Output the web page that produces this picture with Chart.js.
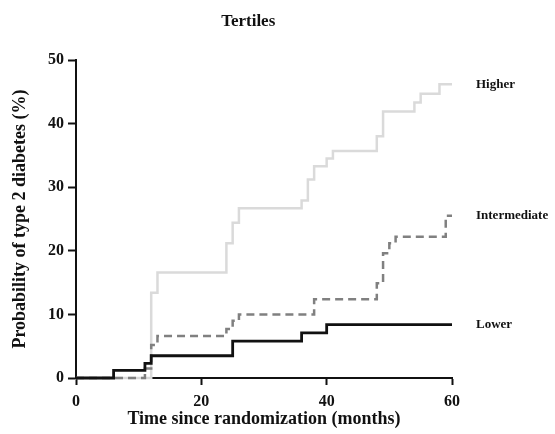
<!DOCTYPE html>
<html>
<head>
<meta charset="utf-8">
<script src="https://cdn.jsdelivr.net/npm/chart.js@4/dist/chart.umd.min.js"></script>
<style>
  html, body { margin: 0; padding: 0; background: #fff; }
  #wrap { width: 555px; height: 434px; }
</style>
</head>
<body>
<div id="wrap"><canvas id="kmChart"></canvas></div>
<script>
// step curves: time of event (months) and cumulative probability (%) after it
const lowerTimes = [0, 6, 11, 12, 25, 36, 40, 60];
const lowerValues = [0, 1.2, 2.3, 3.5, 5.8, 7.1, 8.4, 8.4];

const intermediateTimes = [0, 11, 12, 13, 24, 25, 26, 38, 48, 49, 50, 51, 59, 60];
const intermediateValues = [0, 1.5, 5.2, 6.6, 7.7, 9.0, 10.0, 12.4, 14.9, 19.6, 21.2, 22.2, 25.5, 25.5];

const higherTimes = [0, 12, 13, 24, 25, 26, 36, 37, 38, 40, 41, 48, 49, 54, 55, 58, 60];
const higherValues = [0, 13.4, 16.6, 21.2, 24.4, 26.7, 27.9, 31.2, 33.3, 34.5, 35.7, 38.0, 41.9, 43.3, 44.7, 46.2, 46.2];

const seriesNames = ['Lower', 'Intermediate', 'Higher'];
const xTicks = [0, 20, 40, 60];
const yTicks = [0, 10, 20, 30, 40, 50];

const serif = 'Liberation Serif';

function toPoints(times, values) {
  return times.map((t, i) => ({ x: t, y: values[i] }));
}

function stepDataset(label, times, values, color, dash, width) {
  return {
    label: label,
    data: toPoints(times, values),
    borderColor: color,
    borderWidth: width,
    borderDash: dash,
    stepped: 'before',
    pointRadius: 0,
    fill: false,
    clip: 10
  };
}

// title and the curve names at the right end of each line
const labelsPlugin = {
  id: 'curveLabels',
  afterDraw(chart) {
    const ctx = chart.ctx;
    const area = chart.chartArea;
    const yScale = chart.scales.y;
    ctx.save();
    ctx.fillStyle = '#111';
    ctx.textAlign = 'center';
    ctx.textBaseline = 'middle';
    ctx.font = `bold 17px "${serif}"`;
    ctx.fillText('Tertiles', area.left + area.width * 0.458, 22);

    ctx.textAlign = 'left';
    ctx.font = `bold 13px "${serif}"`;
    chart.data.datasets.forEach(ds => {
      const last = ds.data[ds.data.length - 1];
      ctx.fillText(ds.label, area.right + 24, yScale.getPixelForValue(last.y));
    });
    ctx.restore();
  }
};

new Chart(document.getElementById('kmChart'), {
  type: 'line',
  data: {
    datasets: [
      stepDataset(seriesNames[0], lowerTimes, lowerValues, '#111111', [], 2.8),
      stepDataset(seriesNames[1], intermediateTimes, intermediateValues, '#808080', [8, 5], 2.5),
      stepDataset(seriesNames[2], higherTimes, higherValues, '#dadada', [], 2.5)
    ]
  },
  options: {
    responsive: true,
    maintainAspectRatio: false,
    animation: false,
    layout: { padding: { top: 60, right: 103, left: 0, bottom: 0 } },
    plugins: {
      legend: { display: false },
      tooltip: { enabled: false }
    },
    scales: {
      x: {
        type: 'linear',
        min: 0,
        max: 60,
        afterBuildTicks(scale) { scale.ticks = xTicks.map(v => ({ value: v })); },
        afterFit(scale) { scale.height = 56; },
        ticks: {
          color: '#111',
          padding: 7,
          font: { family: serif, size: 16, weight: 'bold' }
        },
        grid: { drawOnChartArea: false, tickLength: 7, tickColor: '#111', tickWidth: 2 },
        border: { color: '#111', width: 2 },
        title: {
          display: true,
          text: 'Time since randomization (months)',
          color: '#111',
          padding: { top: 0, bottom: 6 },
          font: { family: serif, size: 18, weight: 'bold', lineHeight: 1 }
        }
      },
      y: {
        min: 0,
        max: 50,
        afterBuildTicks(scale) { scale.ticks = yTicks.map(v => ({ value: v })); },
        afterFit(scale) { scale.width = 76; },
        ticks: {
          color: '#111',
          padding: 4,
          font: { family: serif, size: 16, weight: 'bold' }
        },
        grid: { drawOnChartArea: false, tickLength: 8, tickColor: '#111', tickWidth: 2 },
        border: { color: '#111', width: 2 },
        title: {
          display: true,
          text: 'Probability of type 2 diabetes (%)',
          color: '#111',
          padding: { top: 11, bottom: 0 },
          font: { family: serif, size: 18, weight: 'bold', lineHeight: 1 }
        }
      }
    }
  },
  plugins: [labelsPlugin]
});
</script>
</body>
</html>
